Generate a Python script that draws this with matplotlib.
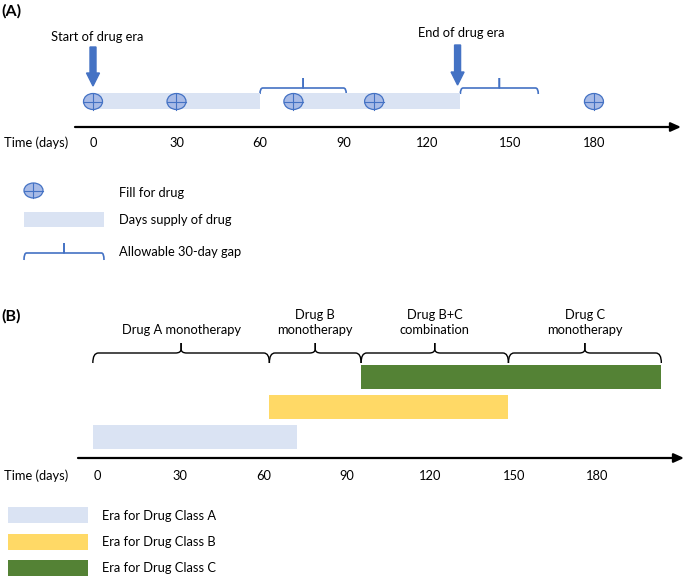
import matplotlib
matplotlib.use("Agg")
import matplotlib.pyplot as plt
from matplotlib.patches import Ellipse, Rectangle, FancyArrow, PathPatch
from matplotlib.path import Path

plt.rcParams['font.family'] = ['Lato', 'DejaVu Sans']

# ---------------- data ----------------
tick_days = [0, 30, 60, 90, 120, 150, 180]
tick_labels = ['0', '30', '60', '90', '120', '150', '180']

# Panel A
fill_days = [0, 30, 72, 101, 180]
supply_start = [0, 72]
supply_end = [60, 132]
gap_start = [60, 132]
gap_end = [91, 160]
era_start_day = 0
era_end_day = 131

# Panel B
seg_start = [-1.5, 62, 95, 148]
seg_end = [62, 95, 148, 203]
seg_labels = ['Drug A monotherapy', 'Drug B\nmonotherapy',
              'Drug B+C\ncombination', 'Drug C\nmonotherapy']
era_names = ['Era for Drug Class A', 'Era for Drug Class B', 'Era for Drug Class C']
era_start = [-1.5, 62, 95]
era_end = [72, 148, 203]

# ---------------- styles ----------------
C_SUPPLY = '#dae3f3'
C_FILL = '#a8bbe6'
C_BLUE = '#4472c4'
C_YELLOW = '#ffd966'
C_GREEN = '#548235'
era_colors = [C_SUPPLY, C_YELLOW, C_GREEN]
FS = 9.3

W, H = 685, 577
fig = plt.figure(figsize=(W / 100, H / 100), dpi=100)

def make_ax(day0, px_per_day):
    ax = fig.add_axes([0, 0, 1, 1])
    ax.set_xlim(-day0 / px_per_day, (W - day0) / px_per_day)
    ax.set_ylim(H, 0)
    ax.axis('off')
    ax.patch.set_alpha(0)
    return ax

axP = fig.add_axes([0, 0, 1, 1])
axP.set_xlim(0, W)
axP.set_ylim(H, 0)
axP.axis('off')

SA = 2.783
SB = 2.78
axA = make_ax(93, SA)
axB = make_ax(97, SB)


def brace(ax, x0, x1, y_line, y_end, y_tip, rx, ry, color, lw, pointed=False):
    xm = (x0 + x1) / 2.0
    for xs, sgn in ((x0, 1), (x1, -1)):
        verts = [(xs, y_end), (xs, y_line), (xs + sgn * rx, y_line)]
        codes = [Path.MOVETO, Path.CURVE3, Path.CURVE3]
        if pointed:
            verts += [(xm - sgn * rx, y_line), (xm, y_line), (xm, y_line - ry), (xm, y_tip)]
            codes += [Path.LINETO, Path.CURVE3, Path.CURVE3, Path.LINETO]
        else:
            verts += [(xm, y_line), (xm, y_tip)]
            codes += [Path.LINETO, Path.LINETO]
        ax.add_patch(PathPatch(Path(verts, codes), fill=False, edgecolor=color,
                               lw=lw, capstyle='butt', joinstyle='round'))


def fill_icon(ax, x, y, w, h):
    ax.add_patch(Ellipse((x, y), w, h, facecolor=C_FILL, edgecolor=C_BLUE, lw=0.9, zorder=4))
    ax.plot([x - w / 2, x + w / 2], [y, y], color=C_BLUE, lw=0.8, zorder=5)
    ax.plot([x, x], [y - h / 2, y + h / 2], color=C_BLUE, lw=0.8, zorder=5)


def time_axis(y, x0, x1):
    axP.annotate('', xy=(x1, y), xytext=(x0, y),
                 arrowprops=dict(arrowstyle='-|>,head_length=0.6,head_width=0.27',
                                 color='black', lw=1.6, shrinkA=0, shrinkB=0))

# ================= Panel A =================
axP.text(1, 11, '(A)', fontsize=11.5, fontweight='bold', ha='left', va='center')

for s, e in zip(supply_start, supply_end):
    axA.add_patch(Rectangle((s, 93), e - s, 16, facecolor=C_SUPPLY, edgecolor='none', zorder=2))
for d in fill_days:
    fill_icon(axA, d, 101.5, 19 / SA, 16)
for s, e in zip(gap_start, gap_end):
    brace(axA, s, e, 88, 94, 78, 1.0, 2, C_BLUE, 1.2)

for d, txt, ty, y0, y1 in ((era_start_day, 'Start of drug era', 37, 47, 86),
                           (era_end_day, 'End of drug era', 33, 45, 85)):
    axA.add_patch(FancyArrow(d, y0, 0, y1 - y0, width=6 / SA,
                             head_width=13 / SA, head_length=13, length_includes_head=True,
                             color=C_BLUE, zorder=5))
    axA.text(d + 4 / SA, ty, txt, fontsize=FS, ha='center', va='center')

time_axis(127, 75, 681)
axP.text(4, 143, 'Time (days)', fontsize=FS, ha='left', va='center')
for d, lab in zip(tick_days, tick_labels):
    axA.text(d, 143, lab, fontsize=FS, ha='center', va='center')

# legend A
fill_icon(axP, 33.5, 190.5, 19, 15)
axP.text(119, 193, 'Fill for drug', fontsize=FS, ha='left', va='center')
axP.add_patch(Rectangle((24, 212), 80, 15, facecolor=C_SUPPLY, edgecolor='none'))
axP.text(119, 220, 'Days supply of drug', fontsize=FS, ha='left', va='center')
brace(axP, 24, 104, 253, 260, 243, 2.5, 2, C_BLUE, 1.2)
axP.text(119, 252, 'Allowable 30-day gap', fontsize=FS, ha='left', va='center')

# ================= Panel B =================
axP.text(1, 316, '(B)', fontsize=11.5, fontweight='bold', ha='left', va='center')

for s, e, lab in zip(seg_start, seg_end, seg_labels):
    brace(axB, s, e, 353, 363, 343, 2.0, 4, 'black', 1.0, pointed=True)
    axB.text((s + e) / 2, 336, lab, fontsize=FS, ha='center', va='bottom',
             linespacing=1.3)

bar_tops = [425, 395, 365]
for s, e, c, top in zip(era_start, era_end, era_colors, bar_tops):
    axB.add_patch(Rectangle((s, top), e - s, 24, facecolor=c, edgecolor='none', zorder=2))

time_axis(458, 78, 684)
axP.text(4, 476, 'Time (days)', fontsize=FS, ha='left', va='center')
for d, lab in zip(tick_days, tick_labels):
    axB.text(d, 476, lab, fontsize=FS, ha='center', va='center')

# legend B
for i, (name, c) in enumerate(zip(era_names, era_colors)):
    top = 507 + i * 26.5
    axP.add_patch(Rectangle((8, top), 80, 16, facecolor=c, edgecolor='none'))
    axP.text(102, top + 8.5, name, fontsize=FS, ha='left', va='center')

fig.savefig('out.png', dpi=100)
